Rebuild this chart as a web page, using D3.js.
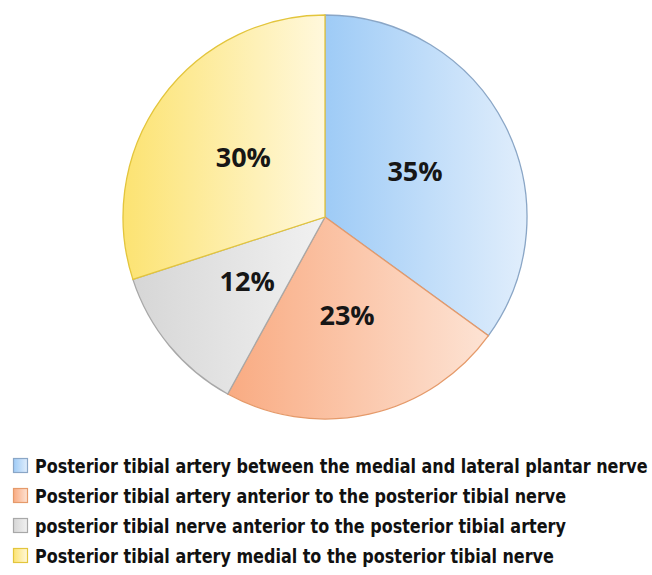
<!DOCTYPE html>
<html>
<head>
<meta charset="utf-8">
<script src="https://cdn.jsdelivr.net/npm/d3@7"></script>
<style>
  body { margin: 0; background: #fff; }
</style>
</head>
<body>
<svg id="chart" width="652" height="575"></svg>
<script>
var categories = [
    "Posterior tibial artery between the medial and lateral plantar nerve",
    "Posterior tibial artery anterior to the posterior tibial nerve",
    "posterior tibial nerve anterior to the posterior tibial artery",
    "Posterior tibial artery medial to the posterior tibial nerve"
]
var values = [35, 23, 12, 30]
var darkColors = ["#9ecbf6", "#f9ab82", "#d6d6d6", "#fce372"]
var lightColors = ["#e1eefc", "#fde3d4", "#f1f1f1", "#fff8dc"]
var strokeColors = ["#8aa6c6", "#e59a6a", "#a8a8a8", "#e3c53c"]

var svg = d3.select("#chart")
var cx = 325, cy = 217, R = 202

var defs = svg.append("defs")
values.forEach(function(v, i) {
    var g = defs.append("linearGradient")
        .attr("id", "grad" + i)
        .attr("x1", "0%").attr("x2", "100%")
        .attr("y1", "0%").attr("y2", "0%")
    g.append("stop").attr("offset", "0%").attr("stop-color", darkColors[i])
    g.append("stop").attr("offset", "100%").attr("stop-color", lightColors[i])
})

var pie = d3.pie().sort(null).value(d => d)
var arcs = pie(values)

var arc = d3.arc().innerRadius(0).outerRadius(R)
var labelArc = d3.arc().innerRadius(101).outerRadius(101)

var g = svg.append("g").attr("transform", "translate(" + cx + "," + cy + ")")

g.selectAll(".slice")
    .data(arcs)
    .join("path")
    .attr("class", "slice")
    .attr("d", arc)
    .attr("fill", (d, i) => "url(#grad" + i + ")")
    .attr("stroke", (d, i) => strokeColors[i])
    .attr("stroke-width", 1.3)

g.selectAll(".lbl")
    .data(arcs)
    .join("text")
    .attr("class", "lbl")
    .attr("transform", d => "translate(" + labelArc.centroid(d) + ")")
    .attr("text-anchor", "middle")
    .attr("dy", "0.36em")
    .attr("font-family", "'Open Sans', sans-serif")
    .attr("font-weight", "bold")
    .attr("font-size", 27)
    .attr("fill", "#161616")
    .text(d => d.value + "%")

// legend
var legend = svg.append("g").attr("transform", "translate(13,0)")
var rowY = d3.scaleLinear().domain([0, 3]).range([466, 556])

var rows = legend.selectAll(".row")
    .data(categories)
    .join("g")
    .attr("class", "row")
    .attr("transform", (d, i) => "translate(0," + rowY(i) + ")")

rows.append("rect")
    .attr("x", 0.5).attr("y", -7.5)
    .attr("width", 14).attr("height", 14)
    .attr("fill", (d, i) => "url(#grad" + i + ")")
    .attr("stroke", (d, i) => strokeColors[i])
    .attr("stroke-width", 1.2)

var txt = rows.append("text")
    .attr("x", 0)
    .attr("dy", "0.36em")
    .attr("font-family", "'DejaVu Sans Condensed', 'DejaVu Sans', sans-serif")
    .attr("font-weight", "bold")
    .attr("font-size", 19)
    .attr("fill", "#111")
    .text(d => d)

// squeeze text so the longest row spans to the right edge
var widest = d3.max(txt.nodes(), n => n.getComputedTextLength())
var k = 613 / widest
txt.attr("transform", "translate(22,0) scale(" + k + ",1)")
</script>
</body>
</html>
